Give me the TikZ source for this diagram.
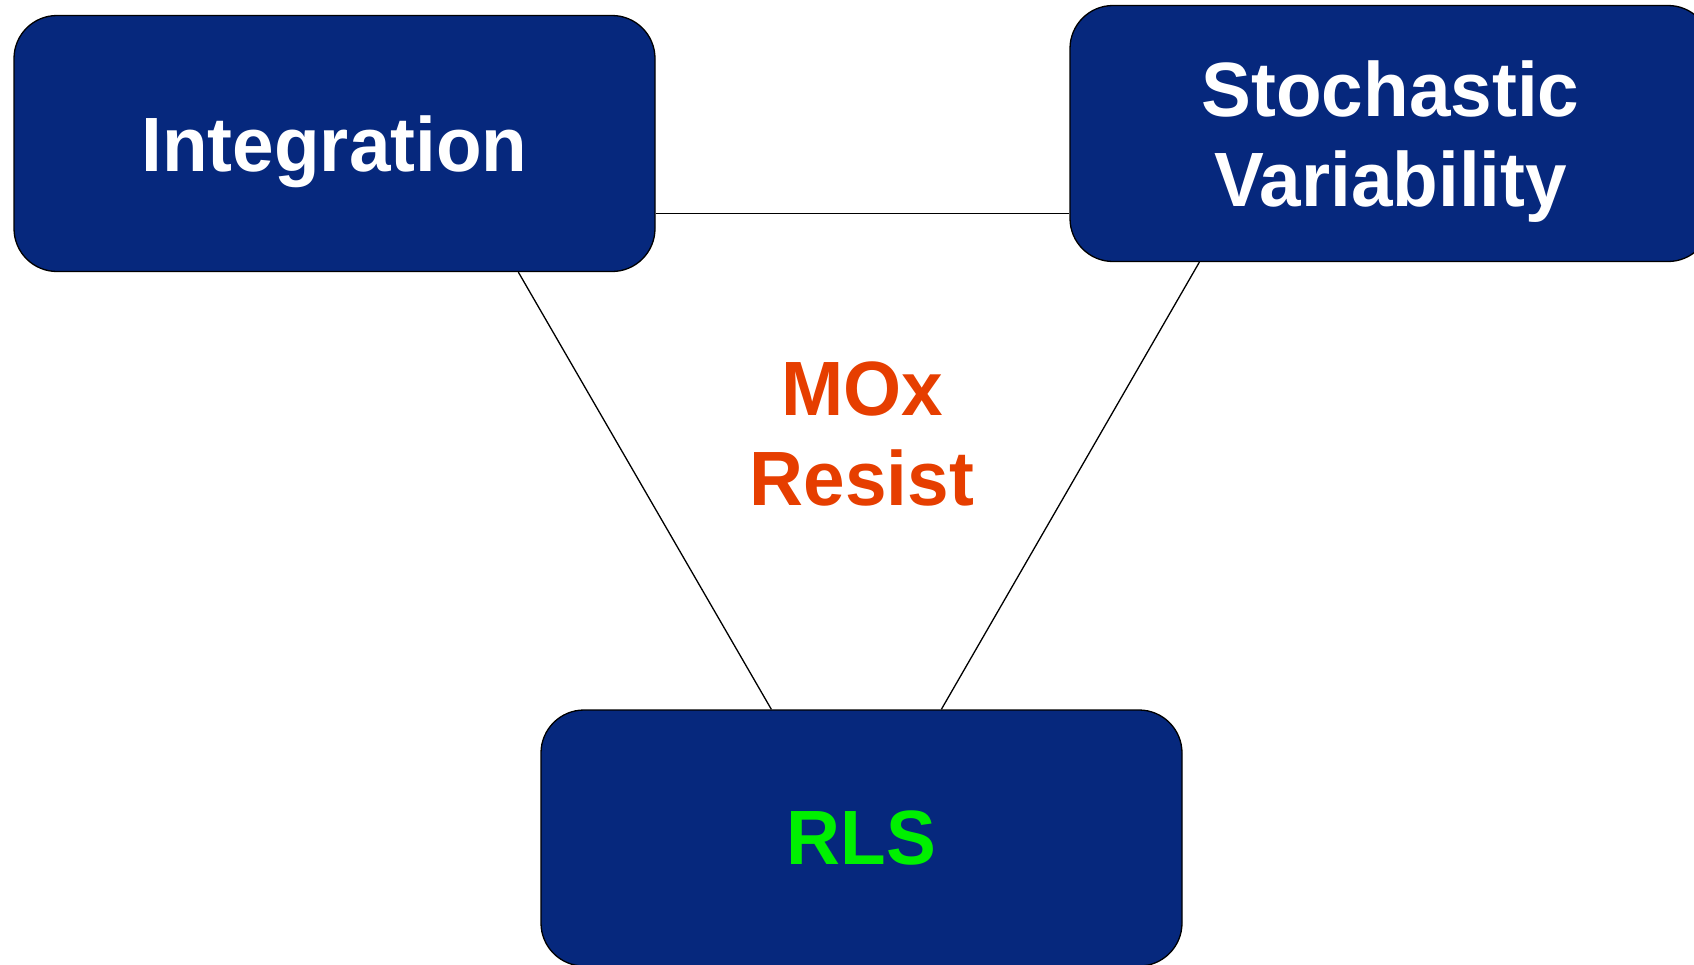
\documentclass[tikz,border=0pt]{standalone}
\usepackage{fontspec}
\setmainfont{Liberation Sans}[FakeStretch=0.97]
\usetikzlibrary{calc}
\definecolor{boxblue}{RGB}{6,40,125}
\definecolor{moxred}{RGB}{230,62,0}
\definecolor{rlsgreen}{RGB}{0,240,0}
\tikzset{
  topic/.style={draw=black, line width=1.3pt, fill=boxblue, rounded corners=43pt,
    minimum width=641pt, minimum height=256pt, inner sep=0pt, align=center,
    text depth=0pt, font=\bfseries\fontsize{77}{90}\selectfont},
  link/.style={draw=black, line width=1.3pt}
}
\begin{document}
\begin{tikzpicture}[x=1pt,y=-1pt]
\useasboundingbox (0,0) rectangle (1694,964);
\clip (0,0) rectangle (1694,964);
\node[topic, text=white] (int) at (334.5,143.5) {Integration};
\node[topic, text=white] (st) at (1390.5,133.5) {Stochastic\\Variability};
\node[topic, text=rlsgreen] (rls) at (861.5,838) {RLS};
\node[align=center, text=moxred, font=\bfseries\fontsize{77}{90}\selectfont] (mox) at (862,434) {MOx\\Resist};
\draw[link] ($(int.south east)+(0,-59)$) -- ($(st.south west)+(0,-49)$);
\draw[link] ($(int.south west)+(505,0)$) -- ($(rls.north west)+(231,0)$);
\draw[link] ($(st.south west)+(130,0)$) -- ($(rls.north west)+(401,0)$);
\end{tikzpicture}
\end{document}
